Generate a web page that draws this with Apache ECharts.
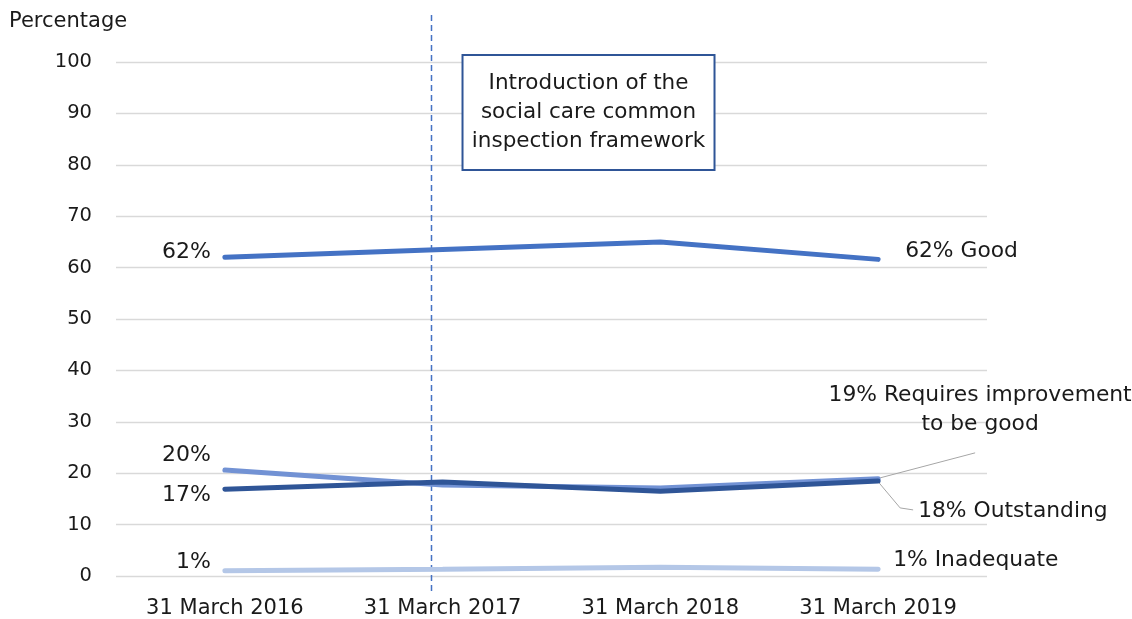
<!DOCTYPE html>
<html><head><meta charset="utf-8">
<script src="https://cdn.jsdelivr.net/npm/echarts@6/dist/echarts.min.js"></script>
<style>html,body{margin:0;padding:0;background:#fff}#c{width:1132px;height:619px}</style>
</head><body><div id="c"></div>
<script>
const categories = ['31 March 2016','31 March 2017','31 March 2018','31 March 2019'];
const yTicks = [0,10,20,30,40,50,60,70,80,90,100];
const good = [62, 63.5, 65, 61.6];
const requiresImprovement = [20.6, 17.7, 17.1, 18.9];
const outstanding = [16.9, 18.3, 16.5, 18.5];
const inadequate = [1, 1.3, 1.7, 1.3];
const startLabels = ['62%', '20%', '17%', '1%'];
const endLabels = ['62% Good', '19% Requires improvement\nto be good', '18% Outstanding', '1% Inadequate'];
const frameworkAt = 0.945; // position between categories (index units)
const boxText = 'Introduction of the\nsocial care common\ninspection framework';
const yName = 'Percentage';

const FONT = 'DejaVu Sans';
const TXT = '#1a1a1a';
const chart = echarts.init(document.getElementById('c'));

function mk(name, vals, color, width, sLab, sOff, eLab, ePos, eOff, eAlign) {
  return {
    name, type: 'line', data: vals.map((v, i) => {
      const d = { value: v };
      if (i === 0) d.label = { show: true, formatter: sLab, position: 'left', distance: 14, offset: sOff, fontSize: 22 };
      if (i === vals.length - 1) d.label = { show: true, formatter: eLab, position: ePos, distance: 0, offset: eOff, align: eAlign || 'left', lineHeight: 29, fontSize: 21.8 };
      return d;
    }),
    showSymbol: true, symbol: 'circle', symbolSize: 0, itemStyle: { color: 'rgba(0,0,0,0)' },
    lineStyle: { color, width, cap: 'round' }, smooth: false, silent: true,
    label: { color: TXT, fontFamily: FONT, fontSize: 22 }
  };
}

chart.setOption({
  animation: false,
  grid: { left: 116, right: 145, top: 62, bottom: 43 },
  xAxis: [
    { type: 'category', data: categories, boundaryGap: true,
      axisLine: { show: false }, axisTick: { show: false },
      axisLabel: { color: TXT, fontFamily: FONT, fontSize: 21, margin: 22 } },
    { type: 'value', min: -0.5, max: 3.5, show: false }
  ],
  yAxis: { type: 'value', min: 0, max: 100, interval: 10,
    axisLine: { show: false }, axisTick: { show: false },
    splitLine: { lineStyle: { color: '#d9d9d9', width: 1.3 } },
    axisLabel: { color: TXT, fontFamily: FONT, fontSize: 19.5, margin: 24,
      formatter: v => yTicks.includes(v) ? String(v) : '' } },
  series: [
    mk('Inadequate', inadequate, '#b4c7e7', 5, startLabels[3], [0, -9], endLabels[3], 'right', [15, -9]),
    mk('Requires improvement to be good', requiresImprovement, '#7292d4', 5, startLabels[1], [0, -15], endLabels[1], 'right', [102, -69], 'center'),
    mk('Outstanding', outstanding, '#2f5597', 5, startLabels[2], [0, 6], endLabels[2], 'right', [40, 30]),
    mk('Good', good, '#4472c4', 5, startLabels[0], [0, -5], endLabels[0], 'right', [27, -8])
  ]
});

function px(idx, vals) { return chart.convertToPixel({ xAxisIndex: 0, yAxisIndex: 0 }, [idx, vals[idx]]); }
const last = categories.length - 1;
const pRI = px(last, requiresImprovement);
const pOut = px(last, outstanding);
const vx = Math.round(chart.convertToPixel({ xAxisIndex: 1 }, frameworkAt)) + 0.5;
const cx = chart.convertToPixel({ xAxisIndex: 1 }, 1.67);
const yTop = chart.convertToPixel({ yAxisIndex: 0 }, 100);

chart.setOption({
  graphic: [
    { type: 'text', x: 9, y: 22, style: { text: yName, fill: TXT, font: '21px "' + FONT + '"', verticalAlign: 'middle' } },
    { type: 'line', shape: { x1: vx, y1: 15, x2: vx, y2: 595 }, style: { stroke: '#4472c4', lineWidth: 1.5, lineDash: [6, 4] } },
    { type: 'rect', shape: { x: cx - 126, y: yTop - 7, width: 252, height: 115 }, style: { fill: '#fff', stroke: '#2f5597', lineWidth: 2 } },
    { type: 'text', x: cx, y: yTop - 7 + 57, style: { text: boxText, fill: TXT, font: '21.5px "' + FONT + '"', align: 'center', verticalAlign: 'middle', lineHeight: 29 } },
    { type: 'polyline', shape: { points: [[pRI[0] + 2, pRI[1] - 1], [pRI[0] + 97, pRI[1] - 26]] }, style: { stroke: '#a6a6a6', lineWidth: 1, fill: null } },
    { type: 'polyline', shape: { points: [[pOut[0] + 1, pOut[1] + 2], [pOut[0] + 22, pOut[1] + 27], [pOut[0] + 35, pOut[1] + 29]] }, style: { stroke: '#a6a6a6', lineWidth: 1, fill: null } }
  ]
});
</script></body></html>
